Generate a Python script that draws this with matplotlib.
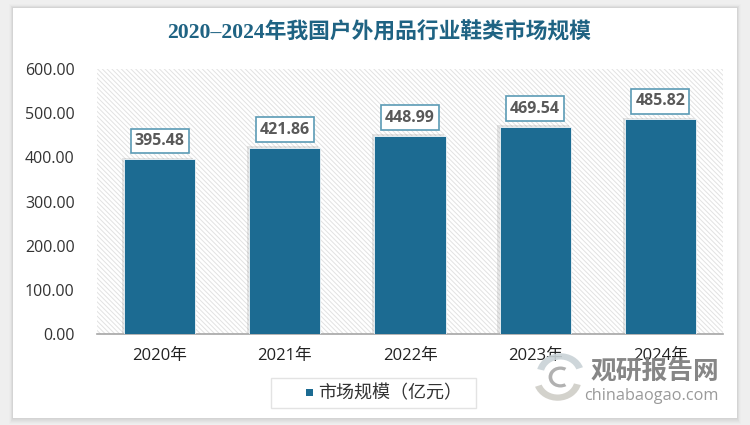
import matplotlib
matplotlib.use('Agg')
import matplotlib.pyplot as plt
import matplotlib.patheffects as pe
from matplotlib.patches import Rectangle, Wedge

plt.rcParams['hatch.linewidth'] = 0.7

categories = ['2020年', '2021年', '2022年', '2023年', '2024年']
values = [395.48, 421.86, 448.99, 469.54, 485.82]
yticks = [0, 100, 200, 300, 400, 500, 600]
title = '2020–2024年我国户外用品行业鞋类市场规模'
series_name = '市场规模（亿元）'

W, H = 750, 425
TEAL = '#1C6B92'
SANS = ['Open Sans', 'Noto Sans CJK SC']

def fx(x): return x / W
def fy(y): return 1 - y / H

fig = plt.figure(figsize=(W / 100, H / 100), dpi=100, facecolor='#EFEFEF')

# white card with soft shadow
for i, a in zip(range(6, 0, -1), [0.05, 0.07, 0.09, 0.11, 0.13, 0.15]):
    fig.add_artist(Rectangle((fx(13 - i * 0.6), fy(418 + i)), (724 + i * 1.2) / W, (410 + i * 1.6) / H,
                             transform=fig.transFigure, fc='#BBBBBB', ec='none', alpha=a))
fig.add_artist(Rectangle((fx(13), fy(418)), 724 / W, 410 / H, transform=fig.transFigure, fc='white', ec='none'))

ax = fig.add_axes([fx(97), fy(334), 626 / W, 265 / H])
ax.set_zorder(2)
ax.patch.set_facecolor('white')
ax.patch.set_hatch('\\\\\\\\\\\\\\')
ax.patch.set_edgecolor('#E2E2E2')
ax.patch.set_linewidth(0)

x = list(range(len(categories)))
bars = ax.bar(x, values, width=0.57, color=TEAL, edgecolor='#F2F7FA', linewidth=0.6, zorder=3)
for b in bars:
    b.set_path_effects([pe.SimplePatchShadow(offset=(-1.5, 1), shadow_rgbFace='#777777', alpha=0.18), pe.Normal()])

ax.set_xlim(-0.5, 4.5)
ax.set_ylim(0, 600)
ax.set_yticks(yticks)
ax.set_yticklabels([f'{v:.2f}' for v in yticks], fontsize=11.5, color='#333333', family=SANS)
ax.set_xticks(x)
ax.set_xticklabels(categories, fontsize=12, color='#222222', family=SANS)
ax.tick_params(axis='both', length=0)
ax.tick_params(axis='y', pad=16)
ax.tick_params(axis='x', pad=10)
for s in ['top', 'left', 'right']:
    ax.spines[s].set_visible(False)
ax.spines['bottom'].set_color('#A6A6A6')
ax.spines['bottom'].set_linewidth(1.2)

for xi, v in zip(x, values):
    ax.annotate(f'{v:.2f}', (xi, v), xytext=(0, 13), textcoords='offset points', ha='center', va='center',
                fontsize=11.5, fontweight='bold', color='#595959', family=SANS, zorder=5,
                bbox=dict(boxstyle='square,pad=0.26', fc='white', ec='#5B9BB5', lw=1.2))

fig.text(fx(379), fy(33), title, ha='center', va='center', fontsize=15.7, fontweight='bold',
         color='#1F6383', family=['Liberation Serif', 'Noto Sans CJK SC'], zorder=4)

# legend
fig.add_artist(Rectangle((fx(271), fy(408)), 205 / W, 30 / H, transform=fig.transFigure,
                         fc='white', ec='#E3E3E3', lw=1, zorder=3))
fig.add_artist(Rectangle((fx(306), fy(396)), 7 / W, 7 / H, transform=fig.transFigure,
                         fc=TEAL, ec='none', zorder=4))
fig.text(fx(318), fy(393), series_name, ha='left', va='center', fontsize=13, color='#333333',
         family=SANS, zorder=4)

# watermark
wax = fig.add_axes([fx(528), fy(402), 62 / W, 50 / H], zorder=6)
wax.set_xlim(-1.1, 1.1); wax.set_ylim(-1, 1); wax.axis('off')
wax.add_patch(Wedge((0.05, 0.1), 0.85, 20, 165, width=0.25, fc='#C9D2D6', ec='none', alpha=0.9))
wax.add_patch(Wedge((-0.05, -0.1), 0.85, 200, 345, width=0.25, fc='#CFCDC7', ec='none', alpha=0.9))
wax.add_patch(Wedge((0.05, 0), 0.42, 60, 300, width=0.13, fc='#A9A9A9', ec='none', alpha=0.9))
fig.text(fx(655), fy(371), '观研报告网', ha='center', va='center', fontsize=18.5, fontweight='bold',
         color='#808080', alpha=0.95, family='Noto Sans CJK SC', zorder=7)
fig.text(fx(651), fy(396), 'chinabaogao.com', ha='center', va='center', fontsize=11.7,
         color='#9A9A9A', family='Open Sans', zorder=7)

fig.savefig('out.png', dpi=100, facecolor=fig.get_facecolor())
